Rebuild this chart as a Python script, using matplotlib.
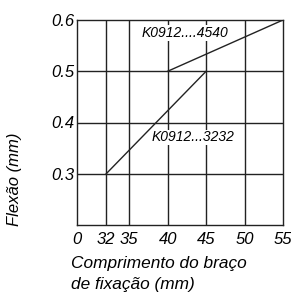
import matplotlib
matplotlib.use("Agg")
import matplotlib.pyplot as plt
from matplotlib import font_manager

names = {f.name for f in font_manager.fontManager.ttflist}
fam = "Liberation Sans Narrow" if "Liberation Sans Narrow" in names else "Liberation Sans"
plt.rcParams['font.family'] = [fam, 'DejaVu Sans']

# data
series_names = ["K0912...3232", "K0912....4540"]
s1_x = [32, 45]
s1_y = [0.3, 0.5]
s2_x = [40, 55]
s2_y = [0.5, 0.6]
x_ticks = [0, 32, 35, 40, 45, 50, 55]
y_ticks = [0.3, 0.4, 0.5, 0.6]

# axis break: 0 is drawn just left of 32
ZERO_POS = 28.2
def xpos(v):
    return ZERO_POS if v == 0 else v

fig = plt.figure(figsize=(2.91, 2.96), dpi=100)
ax = fig.add_axes([77/291, 1-225/296, 206/291, 205/296])
ax.set_xlim(ZERO_POS, 55)
ax.set_ylim(0.2, 0.6)

for v in x_ticks[1:-1]:
    ax.axvline(xpos(v), color='#222222', lw=1.0, zorder=1)
for v in y_ticks[:-1]:
    ax.axhline(v, color='#222222', lw=1.0, zorder=1)

ax.plot(s1_x, s1_y, color='#222222', lw=1.0, zorder=2)
ax.plot(s2_x, s2_y, color='#222222', lw=1.0, zorder=2)

ax.text(42.3, 0.575, series_names[1], ha='center', va='center', fontsize=10, style='italic',
        bbox=dict(facecolor='white', edgecolor='none', pad=0.5), zorder=3)
ax.text(43.3, 0.371, series_names[0], ha='center', va='center', fontsize=10, style='italic',
        bbox=dict(facecolor='white', edgecolor='none', pad=0.5), zorder=3)

for s in ax.spines.values():
    s.set_color('#222222')
    s.set_linewidth(1.0)

ax.set_xticks([xpos(v) for v in x_ticks])
ax.set_xticklabels([str(v) for v in x_ticks])
ax.set_yticks(y_ticks)
ax.set_yticklabels([f"{v:.1f}" for v in y_ticks])
ax.tick_params(axis='y', length=0, labelsize=12, pad=2)
ax.tick_params(axis='x', length=0, labelsize=12, pad=5)
for lbl in ax.get_xticklabels() + ax.get_yticklabels():
    lbl.set_style('italic')

fig.text(15/291, 1-179/296, "Flexão (mm)", rotation=90, ha='center', va='center',
         fontsize=12, style='italic')
fig.text(71/291, 1-274/296, "Comprimento do braço\nde fixação (mm)", ha='left', va='center',
         fontsize=12.4, style='italic', linespacing=1.5)

fig.savefig("out.png", dpi=100)
